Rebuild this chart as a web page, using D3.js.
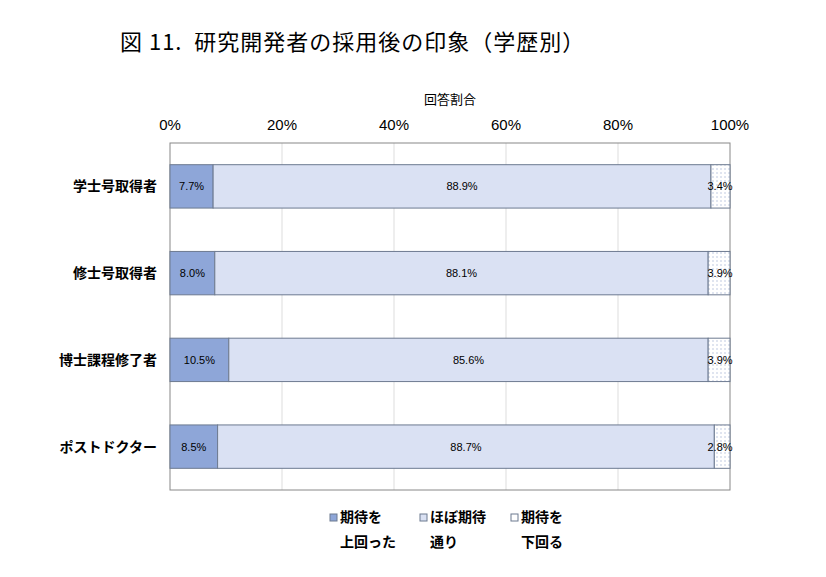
<!DOCTYPE html><html><head><meta charset="utf-8"><script src="https://cdn.jsdelivr.net/npm/d3@7"></script>
<style>body{margin:0;background:#fff}text{font-family:"Noto Sans CJK JP",sans-serif}</style></head><body><svg id="c" width="826" height="577"></svg><script>
const categories=["学士号取得者","修士号取得者","博士課程修了者","ポストドクター"];
const above=[7.7,8.0,10.5,8.5];
const asExpected=[88.9,88.1,85.6,88.7];
const below=[3.4,3.9,3.9,2.8];
const seriesNames=[["期待を","上回った"],["ほぼ期待","通り"],["期待を","下回る"]];
const ticks=[0,20,40,60,80,100];
const colors=["#8ea6d8","#dae1f3","#ffffff"];
const svg=d3.select("#c");
const defs=svg.append("defs");
const p=defs.append("pattern").attr("id","dots").attr("width",4).attr("height",4).attr("patternUnits","userSpaceOnUse");
p.append("rect").attr("width",4).attr("height",4).attr("fill","#fff");
p.append("circle").attr("cx",1).attr("cy",1).attr("r",0.7).attr("fill","#aab8d6");
const L=170,R=730,T=143,B=490;
const x=d3.scaleLinear().domain([0,100]).range([L,R]);
const y=d3.scaleBand().domain(categories).range([T,B]).paddingInner(0.5).paddingOuter(0.25);
svg.append("text").attr("x",120).attr("y",50).attr("font-size",22).style("letter-spacing","1px").text("図 11.  研究開発者の採用後の印象（学歴別）").attr("xml:space","preserve");
svg.append("text").attr("x",450).attr("y",104).attr("font-size",13).attr("text-anchor","middle").text("回答割合");
svg.selectAll(".g").data(ticks.slice(1,-1)).join("line").attr("x1",d=>x(d)).attr("x2",d=>x(d)).attr("y1",T).attr("y2",B).attr("stroke","#ddd");
svg.append("rect").attr("x",L).attr("y",T).attr("width",R-L).attr("height",B-T).attr("fill","none").attr("stroke","#888");
svg.selectAll(".t").data(ticks).join("text").attr("x",d=>x(d)).attr("y",130).attr("text-anchor","middle").attr("font-size",15).style("font-family","Liberation Sans,Arial").text(d=>d+"%");
const data=categories.map((c,i)=>({c,v:[above[i],asExpected[i],below[i]]}));
data.forEach(d=>{let s=0;d.v.forEach((v,k)=>{
 svg.append("rect").attr("x",x(s)).attr("y",y(d.c)).attr("width",x(s+v)-x(s)).attr("height",y.bandwidth()).attr("fill",k==2?"url(#dots)":colors[k]).attr("stroke","#6d7a90").attr("stroke-width",1);
 svg.append("text").attr("x",k==2?x(s+v)-10:x(s+v/2)).attr("y",y(d.c)+y.bandwidth()/2+4).attr("text-anchor","middle").attr("font-size",11).style("font-family","Liberation Sans,Arial").text(v.toFixed(1)+"%");
 s+=v;});
 svg.append("text").attr("x",157).attr("y",y(d.c)+y.bandwidth()/2+5).attr("text-anchor","end").attr("font-size",14).attr("font-weight","bold").text(d.c);
});
const lx=[330,420,511];
seriesNames.forEach((n,k)=>{
 svg.append("rect").attr("x",lx[k]).attr("y",514).attr("width",7).attr("height",7).attr("fill",colors[k]).attr("stroke","#6d7a90");
 svg.append("text").attr("x",lx[k]+10).attr("y",522).attr("font-size",14).attr("font-weight","bold").text(n[0]);
 svg.append("text").attr("x",lx[k]+10).attr("y",547).attr("font-size",14).attr("font-weight","bold").text(n[1]);
});
</script></body></html>
